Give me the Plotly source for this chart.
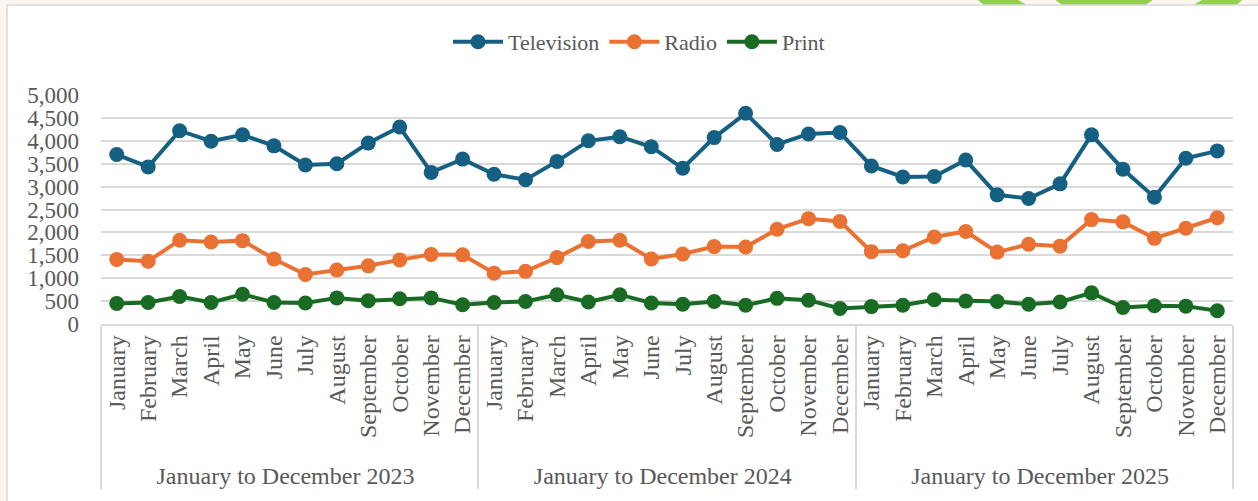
import plotly.graph_objects as go

# Period labels and months
periods = ["January to December 2023", "January to December 2024", "January to December 2025"]
months = ["January", "February", "March", "April", "May", "June", "July",
          "August", "September", "October", "November", "December"]

television = [3700, 3430, 4220, 3990, 4130, 3890, 3470, 3500, 3950, 4300, 3310, 3600,
              3270, 3150, 3550, 4000, 4090, 3870, 3400, 4070, 4600, 3920, 4150, 4180,
              3450, 3210, 3220, 3580, 2820, 2740, 3060, 4130, 3380, 2770, 3620, 3780]
radio = [1410, 1370, 1830, 1790, 1820, 1420, 1080, 1180, 1270, 1400, 1520, 1510,
         1110, 1150, 1450, 1800, 1830, 1420, 1530, 1690, 1680, 2070, 2300, 2240,
         1580, 1600, 1900, 2020, 1570, 1740, 1700, 2280, 2230, 1870, 2090, 2320]
printed = [450, 470, 600, 470, 650, 470, 460, 570, 510, 550, 570, 420,
           470, 490, 640, 480, 640, 460, 430, 490, 410, 560, 520, 340,
           380, 410, 530, 500, 490, 430, 480, 680, 360, 400, 390, 290]

y_ticks = [0, 500, 1000, 1500, 2000, 2500, 3000, 3500, 4000, 4500, 5000]

series = [("Television", television, "#156082"),
          ("Radio", radio, "#E97132"),
          ("Print", printed, "#196B24")]

x_groups = [p for p in periods for _ in months]
x_months = months * len(periods)

FONT = "Liberation Serif"
TEXT = "#595959"
GRID = "#D9D9D9"

fig = go.Figure()
for name, values, color in series:
    fig.add_trace(go.Scatter(
        x=[x_groups, x_months], y=values, name=name,
        mode="lines+markers",
        line=dict(color=color, width=4),
        marker=dict(color=color, size=15),
    ))

# Plot area geometry in pixels (used to place the frame and decorations)
W, H = 1258, 501
L, R, T, B = 101, 25, 95, 177
pw, ph = W - L - R, H - T - B


def px(x):
    return (x - L) / pw


def py(y):
    return (H - B - y) / ph


shapes = [
    # decorative green ring and disc peeking above the card
    dict(type="circle", xref="paper", yref="paper", layer="below",
         x0=px(1110 - 200), x1=px(1110 + 200), y0=py(-150 + 200), y1=py(-150 - 200),
         fillcolor="#92D050", line=dict(width=0)),
    dict(type="circle", xref="paper", yref="paper", layer="below",
         x0=px(1110 - 176), x1=px(1110 + 176), y0=py(-150 + 176), y1=py(-150 - 176),
         fillcolor="#FDF6F0", line=dict(width=0)),
    dict(type="circle", xref="paper", yref="paper", layer="below",
         x0=px(1104 - 78), x1=px(1104 + 78), y0=py(-61 + 78), y1=py(-61 - 78),
         fillcolor="#92D050", line=dict(width=0)),
    # white chart card
    dict(type="rect", xref="paper", yref="paper", layer="below",
         x0=px(7), x1=px(1270), y0=py(5), y1=py(520),
         fillcolor="white", line=dict(color="#D9D9D9", width=1.5)),
]

fig.update_layout(
    width=W, height=H,
    margin=dict(l=L, r=R, t=T, b=B, autoexpand=False),
    paper_bgcolor="#FDF6F0",
    plot_bgcolor="rgba(0,0,0,0)",
    font=dict(family=FONT, color=TEXT, size=22),
    showlegend=True,
    legend=dict(orientation="h", x=px(639), xanchor="center", y=py(42), yanchor="middle",
                font=dict(family=FONT, size=22, color=TEXT), bgcolor="rgba(0,0,0,0)",
                itemwidth=50),
    shapes=shapes,
    xaxis=dict(
        type="multicategory",
        range=[-0.5, 35.5],
        tickangle=-90,
        tickfont=dict(family=FONT, size=24, color=TEXT),
        showline=True, linecolor=GRID, linewidth=1.5,
        showgrid=False, zeroline=False, ticks="",
        showdividers=True, dividercolor=GRID, dividerwidth=1.5,
        automargin=False,
    ),
    yaxis=dict(
        range=[0, 5000], tickvals=y_ticks, tickformat=",",
        showgrid=True, gridcolor=GRID, gridwidth=2,
        zeroline=False, showline=False, ticks="",
        ticklabelstandoff=21,
        tickfont=dict(family=FONT, size=23, color=TEXT),
        automargin=False,
    ),
)

fig.write_html("out.html")
